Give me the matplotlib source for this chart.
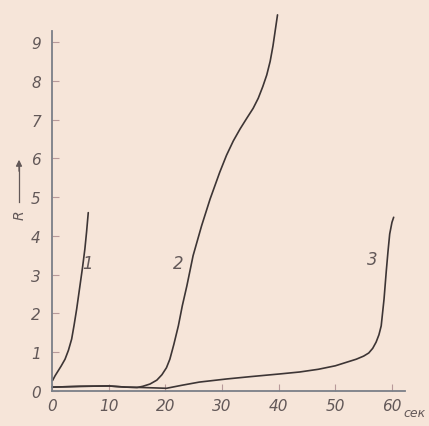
import matplotlib.pyplot as plt

# кривые R(t), значения
t1 = [0.1, 0.53, 1.0, 1.6, 2.3, 2.9, 3.47, 3.9, 4.35, 4.9, 5.4, 5.8, 6.1, 6.4]
r1 = [0.27, 0.39, 0.5, 0.64, 0.82, 1.05, 1.34, 1.7, 2.11, 2.68, 3.2, 3.66, 4.1, 4.6]

t2 = [0.0, 5.0, 10.0, 13.0, 15.0, 16.0, 17.3, 18.5, 19.4, 20.2, 20.8, 21.5, 22.3,
      23.0, 23.8, 24.9, 26.4, 27.9, 29.6, 30.8, 32.0, 33.2, 34.4, 35.5, 36.4,
      37.2, 37.9, 38.5, 39.0, 39.4, 39.8]
r2 = [0.1, 0.12, 0.13, 0.1, 0.09, 0.12, 0.18, 0.28, 0.42, 0.6, 0.82, 1.2, 1.68,
      2.2, 2.71, 3.49, 4.26, 4.95, 5.64, 6.08, 6.45, 6.76, 7.04, 7.29, 7.55,
      7.85, 8.15, 8.5, 8.9, 9.3, 9.7]

t3 = [0.0, 5.0, 10.0, 13.0, 16.0, 20.2, 23.0, 26.0, 30.8, 35.0, 40.2, 43.7, 47.0,
      50.0, 53.7, 55.0, 55.9, 56.6, 57.2, 57.7, 58.1, 58.6, 59.0, 59.3, 59.6,
      60.0, 60.3]
r3 = [0.1, 0.12, 0.13, 0.1, 0.09, 0.07, 0.15, 0.23, 0.31, 0.37, 0.44, 0.49, 0.56,
      0.65, 0.82, 0.9, 0.98, 1.1, 1.26, 1.45, 1.68, 2.37, 3.1, 3.6, 4.05,
      4.35, 4.48]

x_ticks = [0, 10, 20, 30, 40, 50, 60]
y_ticks = [0, 1, 2, 3, 4, 5, 6, 7, 8, 9]
curve_names = ['1', '2', '3']

paper = '#f6e5d9'
ink = '#3d3535'
axis_col = '#7a7f88'
label_col = '#625858'

fig = plt.figure(figsize=(4.29, 4.27), dpi=100, facecolor=paper)
W, H = 429, 427
ax = fig.add_axes([52 / W, 1 - 392 / H, (405 - 52) / W, (392 - 12) / H])
ax.set_facecolor(paper)

for t, r in ((t1, r1), (t2, r2), (t3, r3)):
    ax.plot(t, r, color=ink, lw=1.2, solid_capstyle='round',
            solid_joinstyle='round', clip_on=False)

ax.set_xlim(0, 62.3)
ax.set_ylim(0, 9.8)

for s in ('top', 'right'):
    ax.spines[s].set_visible(False)
ax.spines['left'].set_bounds(0, 9.28)
for s in ('left', 'bottom'):
    ax.spines[s].set_color(axis_col)
    ax.spines[s].set_linewidth(1.3)

ax.set_xticks(x_ticks)
ax.set_yticks(y_ticks)
ax.set_xticklabels([str(v) for v in x_ticks])
ax.set_yticklabels([str(v) for v in y_ticks])
ax.tick_params(direction='in', length=5, width=0.8, color='#b89a9a',
               labelcolor=label_col, labelsize=11)
ax.tick_params(axis='y', pad=8)
ax.tick_params(axis='x', pad=5)
for lab in ax.get_xticklabels() + ax.get_yticklabels():
    lab.set_fontstyle('italic')

# подпись единиц у последней метки
ax.text(62.0, -0.38, 'сек', color=label_col, fontsize=9, fontstyle='italic',
        ha='left', va='top', clip_on=False)

# номера кривых
for name, (x, y) in zip(curve_names, [(6.2, 3.3), (22.2, 3.3), (56.5, 3.4)]):
    ax.text(x, y, name, color=label_col, fontsize=12, fontstyle='italic',
            ha='center', va='center')

# ось R со стрелкой
fig.text(20 / W, 1 - 215 / H, 'R', rotation=90, color=label_col, fontsize=10,
         fontstyle='italic', ha='center', va='center')
fig.add_artist(plt.Line2D([19 / W, 19 / W], [1 - 203 / H, 1 - 163 / H],
                          color=label_col, lw=0.9))
ax.annotate('', xy=(19 / W, 1 - 158 / H), xycoords='figure fraction',
            xytext=(19 / W, 1 - 175 / H), textcoords='figure fraction',
            arrowprops=dict(arrowstyle='-|>', color=label_col, lw=0.9,
                            mutation_scale=9))

fig.savefig('out.png', dpi=100, facecolor=paper)
